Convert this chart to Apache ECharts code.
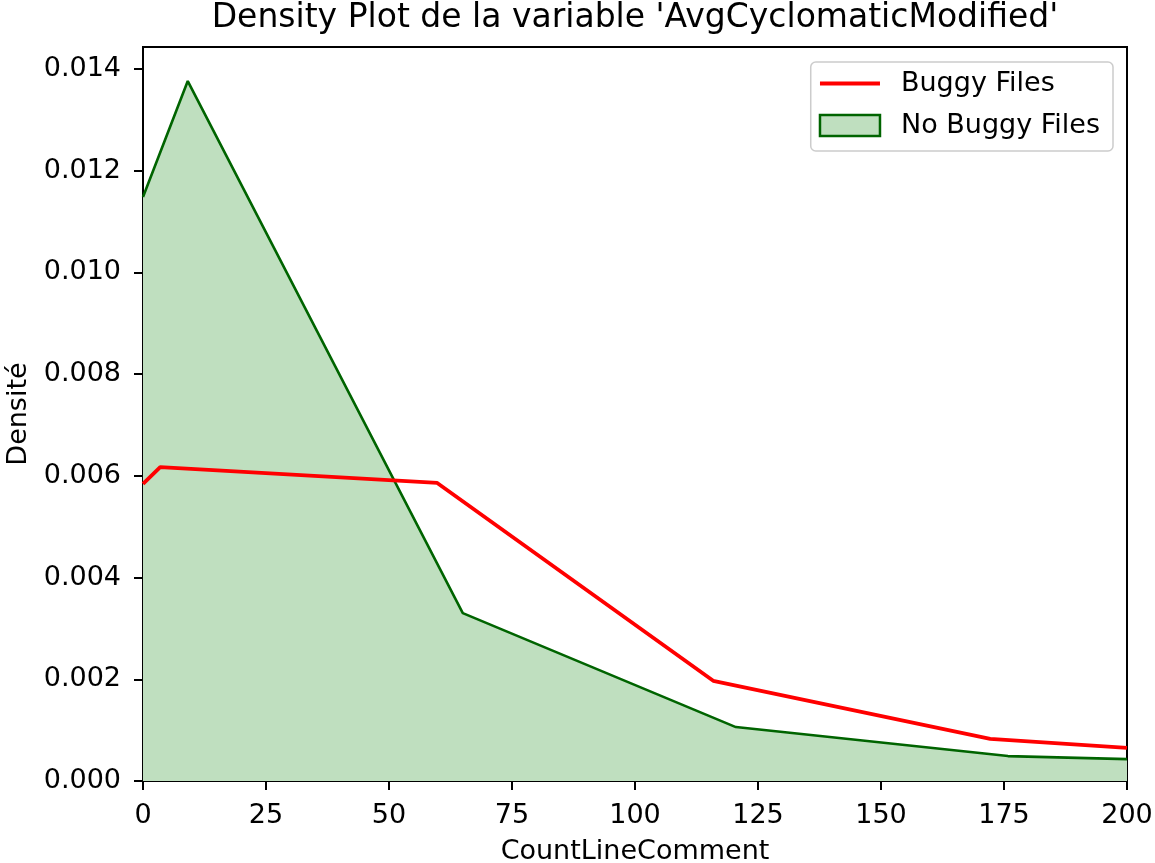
<!DOCTYPE html>
<html>
<head>
<meta charset="utf-8">
<script src="https://cdn.jsdelivr.net/npm/echarts@6/dist/echarts.min.js"></script>
<style>html,body{margin:0;padding:0;background:#fff}#c{width:1155px;height:863px}</style>
</head>
<body>
<div id="c"></div>
<script>
const titleText = "Density Plot de la variable 'AvgCyclomaticModified'";
const buggyX = [0, 3.5, 59.8, 115.9, 172.2, 200];
const buggyY = [0.00584, 0.00617, 0.00586, 0.00197, 0.00083, 0.00065];
const noBuggyX = [0, 9.1, 65.0, 120.5, 175.8, 200];
const noBuggyY = [0.01148, 0.01376, 0.00330, 0.00106, 0.00049, 0.00043];
const xTicks = [0, 25, 50, 75, 100, 125, 150, 175, 200];
const yTicks = [0, 0.002, 0.004, 0.006, 0.008, 0.010, 0.012, 0.014];

const chart = echarts.init(document.getElementById('c'));
const font = 'DejaVu Sans';
const fs = 27;
chart.setOption({
  animation: false,
  backgroundColor: '#fff',
  textStyle: {fontFamily: font},
  graphic: [{
    type: 'text', x: 635, y: 2, z: 10,
    style: {text: titleText, fontFamily: font, fontSize: 33, fill: '#000',
      align: 'center', verticalAlign: 'top'}
  }],
  legend: {
    right: 42, top: 62,
    orient: 'vertical',
    itemWidth: 60, itemHeight: 21, itemGap: 15,
    padding: [8, 13, 12, 8],
    backgroundColor: '#fff',
    borderColor: '#cccccc', borderWidth: 1.5, borderRadius: 5,
    textStyle: {fontFamily: font, fontSize: fs, color: '#000', padding: [0, 0, 0, 16]},
    data: [
      {name: 'Buggy Files', icon: 'path://M0,0 L0,0 M0,8.6 L60,8.6 L60,12.4 L0,12.4 Z M60,21 L60,21',
        itemStyle: {color: '#ff0000', borderWidth: 0}},
      {name: 'No Buggy Files', icon: 'rect', itemStyle: {color: '#bfdfbf', borderColor: '#006400', borderWidth: 2.5}}
    ]
  },
  grid: {left: 143, right: 28, top: 47, bottom: 82, show: true, borderColor: '#000', borderWidth: 2,
    backgroundColor: 'transparent', outerBoundsMode: 'none', containLabel: false},
  xAxis: {
    type: 'value', min: xTicks[0], max: xTicks[xTicks.length - 1], interval: 25,
    name: 'CountLineComment', nameLocation: 'middle', nameGap: 57,
    nameTextStyle: {fontFamily: font, fontSize: fs, color: '#000'},
    axisLine: {show: true, onZero: false, lineStyle: {color: '#000', width: 2}},
    axisTick: {show: true, length: 9, lineStyle: {color: '#000', width: 2}},
    axisLabel: {fontFamily: font, fontSize: fs, color: '#000', margin: 21},
    splitLine: {show: false}
  },
  yAxis: {
    type: 'value', min: 0, max: 0.01443, interval: 0.002,
    name: 'Densité', nameLocation: 'middle', nameGap: 110,
    nameTextStyle: {fontFamily: font, fontSize: fs, color: '#000'},
    axisLine: {show: true, lineStyle: {color: '#000', width: 2}},
    axisTick: {show: true, length: 9, lineStyle: {color: '#000', width: 2},
      customValues: yTicks},
    axisLabel: {fontFamily: font, fontSize: fs, color: '#000', margin: 22,
      customValues: yTicks,
      formatter: v => v.toFixed(3)},
    splitLine: {show: false}
  },
  series: [
    {
      name: 'No Buggy Files', type: 'line', symbol: 'none', z: 2,
      data: noBuggyX.map((x, i) => [x, noBuggyY[i]]),
      lineStyle: {color: '#006400', width: 2.6},
      itemStyle: {color: '#006400'},
      areaStyle: {color: '#bfdfbf', opacity: 1, origin: 'start'}
    },
    {
      name: 'Buggy Files', type: 'line', symbol: 'none', z: 3,
      data: buggyX.map((x, i) => [x, buggyY[i]]),
      lineStyle: {color: '#ff0000', width: 3.8},
      itemStyle: {color: '#ff0000'}
    }
  ]
});
</script>
</body>
</html>
